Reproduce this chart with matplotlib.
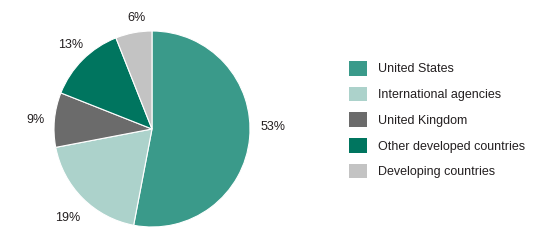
import matplotlib
matplotlib.use("Agg")
import matplotlib.pyplot as plt
from matplotlib.patches import Patch
from matplotlib.transforms import offset_copy

categories = ["United States", "International agencies", "United Kingdom",
              "Other developed countries", "Developing countries"]
values = [53, 19, 9, 13, 6]
colors = ["#3a9a8a", "#acd2cb", "#6b6b6b", "#00755f", "#c3c3c3"]

plt.rcParams['font.family'] = ['Liberation Sans', 'DejaVu Sans']
text_color = "#231f20"

fig = plt.figure(figsize=(5.5, 2.4), dpi=100)
fig.patch.set_facecolor("white")

# pie axes: center (152,129) px, radius 98 px
cx, cy, r = 152, 129, 98
ax = fig.add_axes([(cx - r) / 550, (240 - cy - r) / 240, 2 * r / 550, 2 * r / 240])
wedges, texts, autotexts = ax.pie(
    values, colors=colors, startangle=90, counterclock=False,
    autopct=lambda p: f"{p:.0f}%", pctdistance=1.21,
    wedgeprops=dict(edgecolor="white", linewidth=0.8),
    textprops=dict(fontsize=9, color=text_color))
ax.set_xlim(-1, 1)
ax.set_ylim(-1, 1)
ax.set_aspect("equal")
ax.axis("off")

# small label nudges (pixels at 100 dpi -> points)
nudges = [(3, 13), (0, -5), (2, -2), (2, 0), (7, -5)]
for t, (dx, dy) in zip(autotexts, nudges):
    t.set_transform(offset_copy(ax.transData, fig=fig, x=dx * 0.72, y=dy * 0.72, units="points"))

handles = [Patch(facecolor=c, edgecolor="none") for c in colors]
leg = fig.legend(handles, categories, loc="upper left",
                 bbox_to_anchor=(349 / 550, (240 - 61) / 240),
                 frameon=False, fontsize=9, handlelength=1.42, handleheight=1.42,
                 handletextpad=0.88, labelspacing=0.89, borderpad=0, borderaxespad=0)
for t in leg.get_texts():
    t.set_color(text_color)

fig.savefig("out.png", dpi=100)
